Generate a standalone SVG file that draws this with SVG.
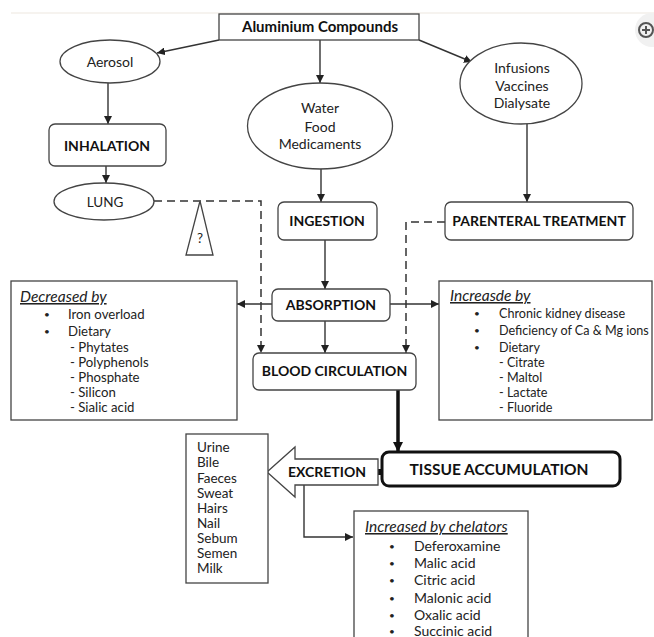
<svg xmlns="http://www.w3.org/2000/svg" width="654" height="637" viewBox="0 0 654 637">
<style>
.t{font-family:Lato,"Liberation Sans",sans-serif;font-size:13.5px;fill:#222}
.e{font-size:14px}
.l{font-size:13.2px}
.r{font-size:12.6px}
.c{font-size:14px}
.bu{font-family:Lato,"Liberation Sans",sans-serif;font-size:10px;fill:#222;text-anchor:middle}
.b{font-family:Lato,"Liberation Sans",sans-serif;font-size:14px;font-weight:bold;fill:#111}
.i{font-family:Lato,"Liberation Sans",sans-serif;font-size:15.5px;font-style:italic;text-decoration:underline;fill:#222}
.m{text-anchor:middle}
.box{fill:#fff;stroke:#444;stroke-width:1.3}
.ln{fill:none;stroke:#333;stroke-width:1.4}
.ds{fill:none;stroke:#333;stroke-width:1.5;stroke-dasharray:8 5}
</style>
<defs>
<marker id="ah" viewBox="0 0 10 10" refX="10" refY="5" markerWidth="8" markerHeight="8" markerUnits="userSpaceOnUse" orient="auto">
<path d="M0,0 L10,5 L0,10 z" fill="#222"/>
</marker>
<marker id="ahb" viewBox="0 0 10 10" refX="10" refY="5" markerWidth="10" markerHeight="10" markerUnits="userSpaceOnUse" orient="auto">
<path d="M0,0 L10,5 L0,10 z" fill="#111"/>
</marker>
</defs>
<rect width="654" height="637" fill="#fff"/>
<line x1="11" y1="13" x2="654" y2="13" stroke="#eee8df" stroke-width="1.2"/>
<g id="zoom-icon">
<circle cx="652" cy="30" r="17" fill="#f1f1f1"/>
<circle cx="646" cy="30" r="7" fill="none" stroke="#555" stroke-width="2"/>
<line x1="642" y1="30" x2="650" y2="30" stroke="#555" stroke-width="2"/>
<line x1="646" y1="26" x2="646" y2="34" stroke="#555" stroke-width="2"/>
</g>

<g id="connectors">
<line class="ln" x1="219" y1="40" x2="157" y2="53" marker-end="url(#ah)"/>
<line class="ln" x1="320" y1="40" x2="320" y2="83" marker-end="url(#ah)"/>
<line class="ln" x1="419" y1="40" x2="472" y2="62" marker-end="url(#ah)"/>
<line class="ln" x1="108" y1="83" x2="108" y2="124" marker-end="url(#ah)"/>
<line class="ln" x1="106" y1="166" x2="106" y2="183" marker-end="url(#ah)"/>
<line class="ln" x1="321" y1="169" x2="321" y2="202" marker-end="url(#ah)"/>
<line class="ln" x1="527" y1="124" x2="527" y2="202" marker-end="url(#ah)"/>
<line class="ln" x1="325" y1="240" x2="325" y2="289" marker-end="url(#ah)"/>
<line class="ln" x1="325" y1="321" x2="325" y2="353" marker-end="url(#ah)"/>
<line class="ln" x1="272" y1="304" x2="237" y2="304" marker-end="url(#ah)"/>
<line class="ln" x1="390" y1="304" x2="439" y2="304" marker-end="url(#ah)"/>
<polyline class="ds" points="154,201 261,201 261,353" marker-end="url(#ah)"/>
<polyline class="ds" points="445,222 406,222 406,353" marker-end="url(#ah)"/>
<line x1="398" y1="390" x2="398" y2="452" stroke="#111" stroke-width="3.5" marker-end="url(#ahb)"/>
<polyline class="ln" points="304,485 304,537 353,537" marker-end="url(#ah)"/>
<rect x="377" y="469" width="6" height="6" fill="#111"/>
</g>

<g id="aluminium">
<rect class="box" x="219" y="14" width="200" height="26"/>
<text class="b m" x="320" y="32" style="font-size:15px">Aluminium Compounds</text>
</g>
<g id="aerosol">
<ellipse class="box" cx="110" cy="61.5" rx="50" ry="21.5"/>
<text class="t e m" x="110" y="67">Aerosol</text>
</g>
<g id="water">
<ellipse class="box" cx="320" cy="126" rx="72.5" ry="43"/>
<text class="t e m" x="320" y="113">Water</text>
<text class="t e m" x="320" y="132">Food</text>
<text class="t e m" x="320" y="149">Medicaments</text>
</g>
<g id="infusions">
<ellipse class="box" cx="521" cy="83.5" rx="61" ry="40.5"/>
<text class="t e m" x="522" y="73">Infusions</text>
<text class="t e m" x="522" y="91">Vaccines</text>
<text class="t e m" x="522" y="108">Dialysate</text>
</g>
<g id="inhalation">
<rect class="box" x="49" y="124" width="117" height="42" rx="6"/>
<text class="b m" x="107" y="151">INHALATION</text>
</g>
<g id="lung">
<ellipse class="box" cx="104" cy="201.5" rx="50" ry="18.5"/>
<text class="t m" x="105" y="207">LUNG</text>
</g>
<g id="unknown">
<polygon class="box" points="200,201 186,255 213,255"/>
<text class="t m" x="200" y="243">?</text>
</g>
<g id="ingestion">
<rect class="box" x="278" y="202" width="99" height="38" rx="6"/>
<text class="b m" x="327" y="226">INGESTION</text>
</g>
<g id="parenteral">
<rect class="box" x="445" y="202" width="188" height="38" rx="6"/>
<text class="b m" x="539" y="226">PARENTERAL TREATMENT</text>
</g>
<g id="absorption">
<rect class="box" x="272" y="289" width="118" height="32" rx="6"/>
<text class="b m" x="331" y="310">ABSORPTION</text>
</g>
<g id="decreased">
<rect class="box" x="11" y="281" width="226" height="139"/>
<text class="i" x="20" y="302">Decreased by</text>
<text class="bu" x="47" y="318">•</text>
<text class="t l" x="68" y="319">Iron overload</text>
<text class="bu" x="47" y="335">•</text>
<text class="t l" x="68" y="336">Dietary</text>
<text class="t l" x="70" y="351.5">- Phytates</text>
<text class="t l" x="70" y="366.5">- Polyphenols</text>
<text class="t l" x="70" y="381.5">- Phosphate</text>
<text class="t l" x="70" y="396.5">- Silicon</text>
<text class="t l" x="70" y="411.5">- Sialic acid</text>
</g>
<g id="increased">
<rect class="box" x="439" y="281" width="213" height="139"/>
<text class="i" x="450" y="301">Increasde by</text>
<text class="bu" x="477" y="317">•</text>
<text class="t r" x="499" y="318">Chronic kidney disease</text>
<text class="bu" x="477" y="334">•</text>
<text class="t r" x="499" y="335">Deficiency of Ca &amp; Mg ions</text>
<text class="bu" x="477" y="351">•</text>
<text class="t r" x="499" y="352">Dietary</text>
<text class="t r" x="499" y="367">- Citrate</text>
<text class="t r" x="499" y="382">- Maltol</text>
<text class="t r" x="499" y="397">- Lactate</text>
<text class="t r" x="499" y="412">- Fluoride</text>
</g>
<g id="blood">
<rect class="box" x="253" y="353" width="163" height="37" rx="6"/>
<text class="b m" x="334.5" y="376">BLOOD CIRCULATION</text>
</g>
<g id="tissue">
<rect x="382" y="452" width="238" height="34" rx="7" fill="#fff" stroke="#111" stroke-width="3"/>
<text class="b m" x="499" y="475" style="font-size:15.5px">TISSUE ACCUMULATION</text>
</g>
<g id="excretion">
<polygon class="box" points="267,472 295,447 295,459 378,459 378,485 295,485 295,497"/>
<text class="b m" x="327" y="477">EXCRETION</text>
</g>
<g id="routes">
<rect class="box" x="186" y="434" width="82" height="149"/>
<text class="t" x="197" y="452">Urine</text>
<text class="t" x="197" y="467">Bile</text>
<text class="t" x="197" y="482.5">Faeces</text>
<text class="t" x="197" y="497.5">Sweat</text>
<text class="t" x="197" y="512.5">Hairs</text>
<text class="t" x="197" y="527.5">Nail</text>
<text class="t" x="197" y="542.5">Sebum</text>
<text class="t" x="197" y="558">Semen</text>
<text class="t" x="197" y="573">Milk</text>
</g>
<g id="chelators">
<rect class="box" x="354" y="511" width="174" height="140"/>
<text class="i" x="365" y="532">Increased by chelators</text>
<text class="bu" x="392" y="550">•</text>
<text class="t c" x="414" y="551">Deferoxamine</text>
<text class="bu" x="392" y="567">•</text>
<text class="t c" x="414" y="568">Malic acid</text>
<text class="bu" x="392" y="584">•</text>
<text class="t c" x="414" y="585">Citric acid</text>
<text class="bu" x="392" y="601.5">•</text>
<text class="t c" x="414" y="602.5">Malonic acid</text>
<text class="bu" x="392" y="618.5">•</text>
<text class="t c" x="414" y="619.5">Oxalic acid</text>
<text class="bu" x="392" y="635">•</text>
<text class="t c" x="414" y="636">Succinic acid</text>
</g>
</svg>
